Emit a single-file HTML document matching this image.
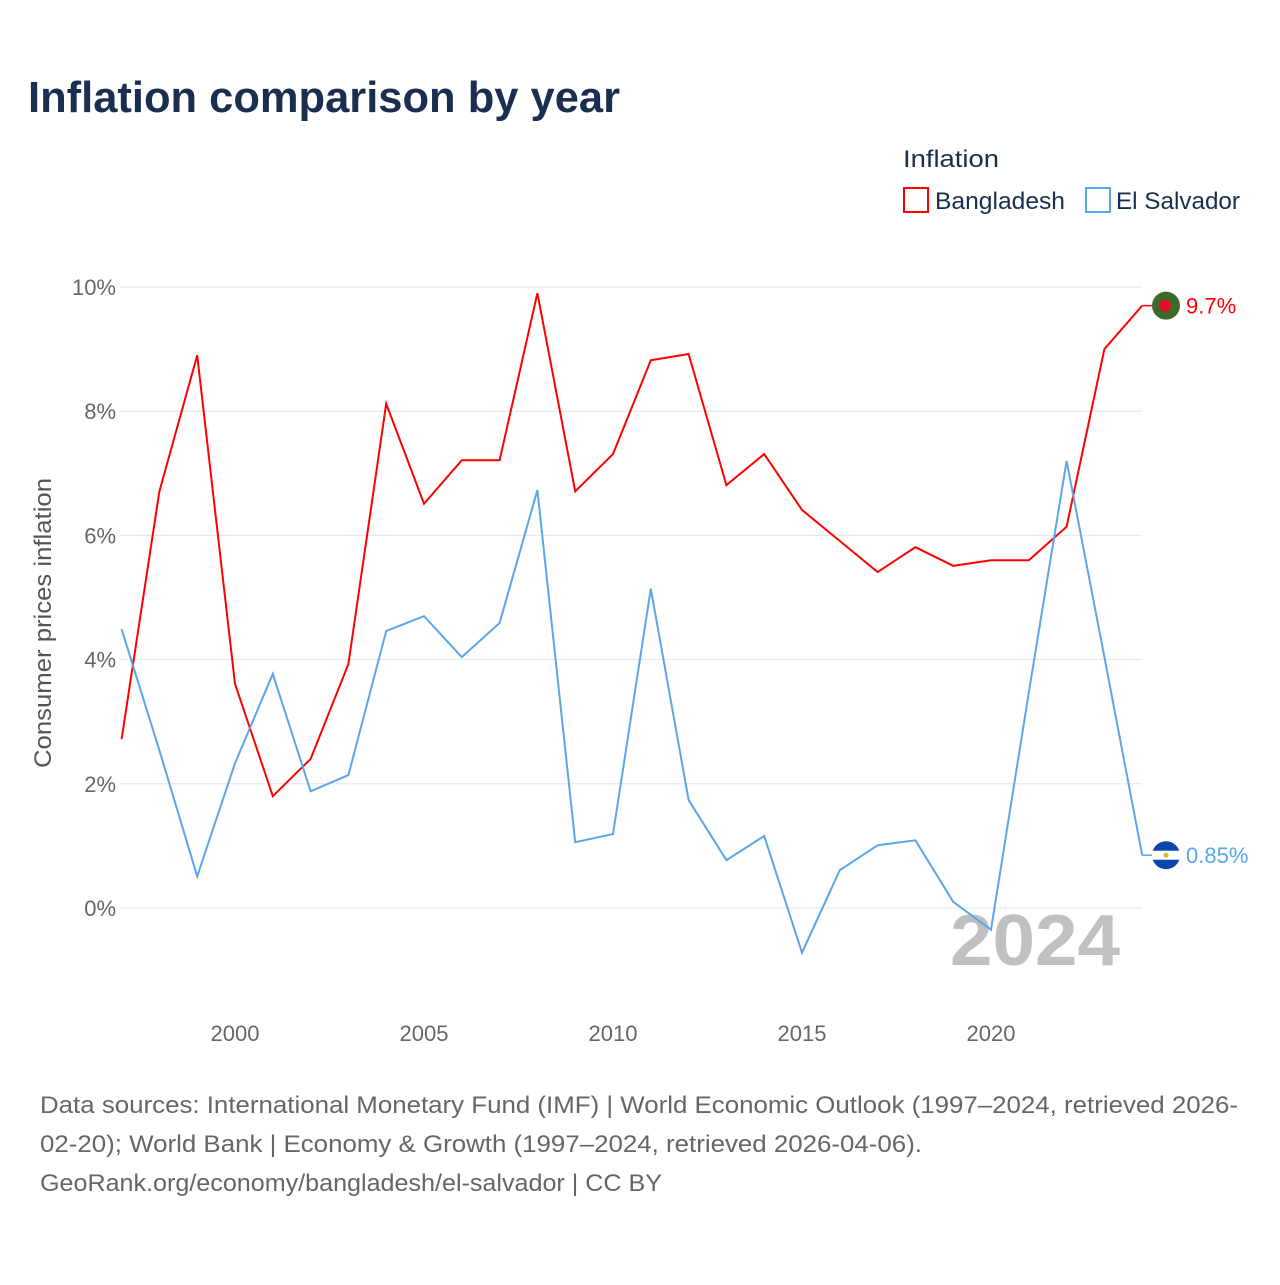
<!DOCTYPE html>
<html><head><meta charset="utf-8">
<style>
body{margin:0;background:#fff;font-family:"Liberation Sans",sans-serif;}
svg text{font-family:"Liberation Sans",sans-serif;}
</style></head>
<body>
<svg id="chart" width="1280" height="1280" xmlns="http://www.w3.org/2000/svg">
<text x="28" y="112" font-size="44" font-weight="bold" fill="#1a2e4f" textLength="592" lengthAdjust="spacingAndGlyphs">Inflation comparison by year</text>
<text x="903" y="167" font-size="24" fill="#1a2e4f" textLength="96" lengthAdjust="spacingAndGlyphs">Inflation</text>
<g>
<rect x="904" y="188" width="24" height="24" fill="none" stroke="#ff0000" stroke-width="2"/>
<text x="935" y="209" font-size="24" fill="#1a2e4f" textLength="130" lengthAdjust="spacingAndGlyphs">Bangladesh</text></g>
<g>
<rect x="1086" y="188" width="24" height="24" fill="none" stroke="#5aa5ec" stroke-width="2"/>
<text x="1116" y="209" font-size="24" fill="#1a2e4f" textLength="124" lengthAdjust="spacingAndGlyphs">El Salvador</text></g>
<g id="grid"></g>
<text x="950" y="965" font-size="72" font-weight="bold" fill="#c0c0c0" textLength="170" lengthAdjust="spacingAndGlyphs">2024</text>
<g id="series"></g>
<text transform="translate(51,623) rotate(-90)" text-anchor="middle" font-size="24" fill="#555" textLength="290" lengthAdjust="spacingAndGlyphs">Consumer prices inflation</text>
<text x="40" y="1113" font-size="24" fill="#666" textLength="1198" lengthAdjust="spacingAndGlyphs">Data sources: International Monetary Fund (IMF) | World Economic Outlook (1997–2024, retrieved 2026-</text>
<text x="40" y="1152" font-size="24" fill="#666" textLength="882" lengthAdjust="spacingAndGlyphs">02-20); World Bank | Economy &amp; Growth (1997–2024, retrieved 2026-04-06).</text>
<text x="40" y="1191" font-size="24" fill="#666" textLength="622" lengthAdjust="spacingAndGlyphs">GeoRank.org/economy/bangladesh/el-salvador | CC BY</text>
</svg>
<script>
const years=[1997,1998,1999,2000,2001,2002,2003,2004,2005,2006,2007,2008,2009,2010,2011,2012,2013,2014,2015,2016,2017,2018,2019,2020,2021,2022,2023,2024];
const bangladesh=[2.72,6.71,8.9,3.61,1.8,2.4,3.93,8.12,6.51,7.21,7.21,9.9,6.71,7.31,8.82,8.92,6.81,7.31,6.41,5.91,5.41,5.81,5.51,5.6,5.6,6.14,9.0,9.7];
const elSalvador=[4.49,2.54,0.51,2.33,3.77,1.88,2.14,4.46,4.7,4.04,4.59,6.73,1.06,1.19,5.14,1.74,0.77,1.16,-0.72,0.61,1.01,1.09,0.1,-0.35,3.47,7.2,4.04,0.85];
const yTicks=[0,2,4,6,8,10];
const xTicks=[2000,2005,2010,2015,2020];
const NS="http://www.w3.org/2000/svg";
const x=v=>121.6+(v-1997)*37.8;
const y=v=>908-v*62.1;
const grid=document.getElementById('grid'),ser=document.getElementById('series');
function mk(tag,attrs,parent){const e=document.createElementNS(NS,tag);for(const k in attrs)e.setAttribute(k,attrs[k]);parent.appendChild(e);return e;}
yTicks.forEach(t=>{
 const l=mk('line',{x1:120,x2:1142,y1:y(t),y2:y(t),stroke:'#e6e6e6','stroke-width':1},grid);
 
 
 const tx=mk('text',{x:116,y:y(t)+8,'text-anchor':'end','font-size':22,fill:'#666'},grid);
 tx.textContent=t+'%';
 
 
});
xTicks.forEach(t=>{
 const tx=mk('text',{x:x(t),y:1041,'text-anchor':'middle','font-size':22,fill:'#666'},grid);
 tx.textContent=t;
 
 
});
function line(vals,color,name,label,flagFn){
 const p=mk('polyline',{points:vals.map((v,i)=>x(years[i])+','+y(v)).join(' '),fill:'none',stroke:color,'stroke-width':2},ser);
 
 
 const last=vals[vals.length-1],ly=y(last);
 mk('line',{x1:x(2024),x2:1152,y1:ly,y2:ly,stroke:color,'stroke-width':1.5},ser);
 const g=mk('g',{},ser);
 
 
 flagFn(g,1166,ly);
 const t=mk('text',{x:1186,y:ly+8,'font-size':22,fill:color},ser);
 t.textContent=label;
 
 
}
line(bangladesh,'#ff0000','bangladesh','9.7%',(g,cx,cy)=>{mk('circle',{cx,cy,r:14,fill:'#3d6b2a'},g);mk('circle',{cx:cx-1,cy,r:6,fill:'#e0102a'},g);});
line(elSalvador,'#5aa5ec','el-salvador','0.85%',(g,cx,cy)=>{mk('circle',{cx,cy,r:14,fill:'#0b47a8'},g);mk('rect',{x:cx-14,y:cy-4.5,width:28,height:9,fill:'#fff'},g);mk('circle',{cx,cy,r:2.5,fill:'#d8b830'},g);});
</script>
</body></html>
